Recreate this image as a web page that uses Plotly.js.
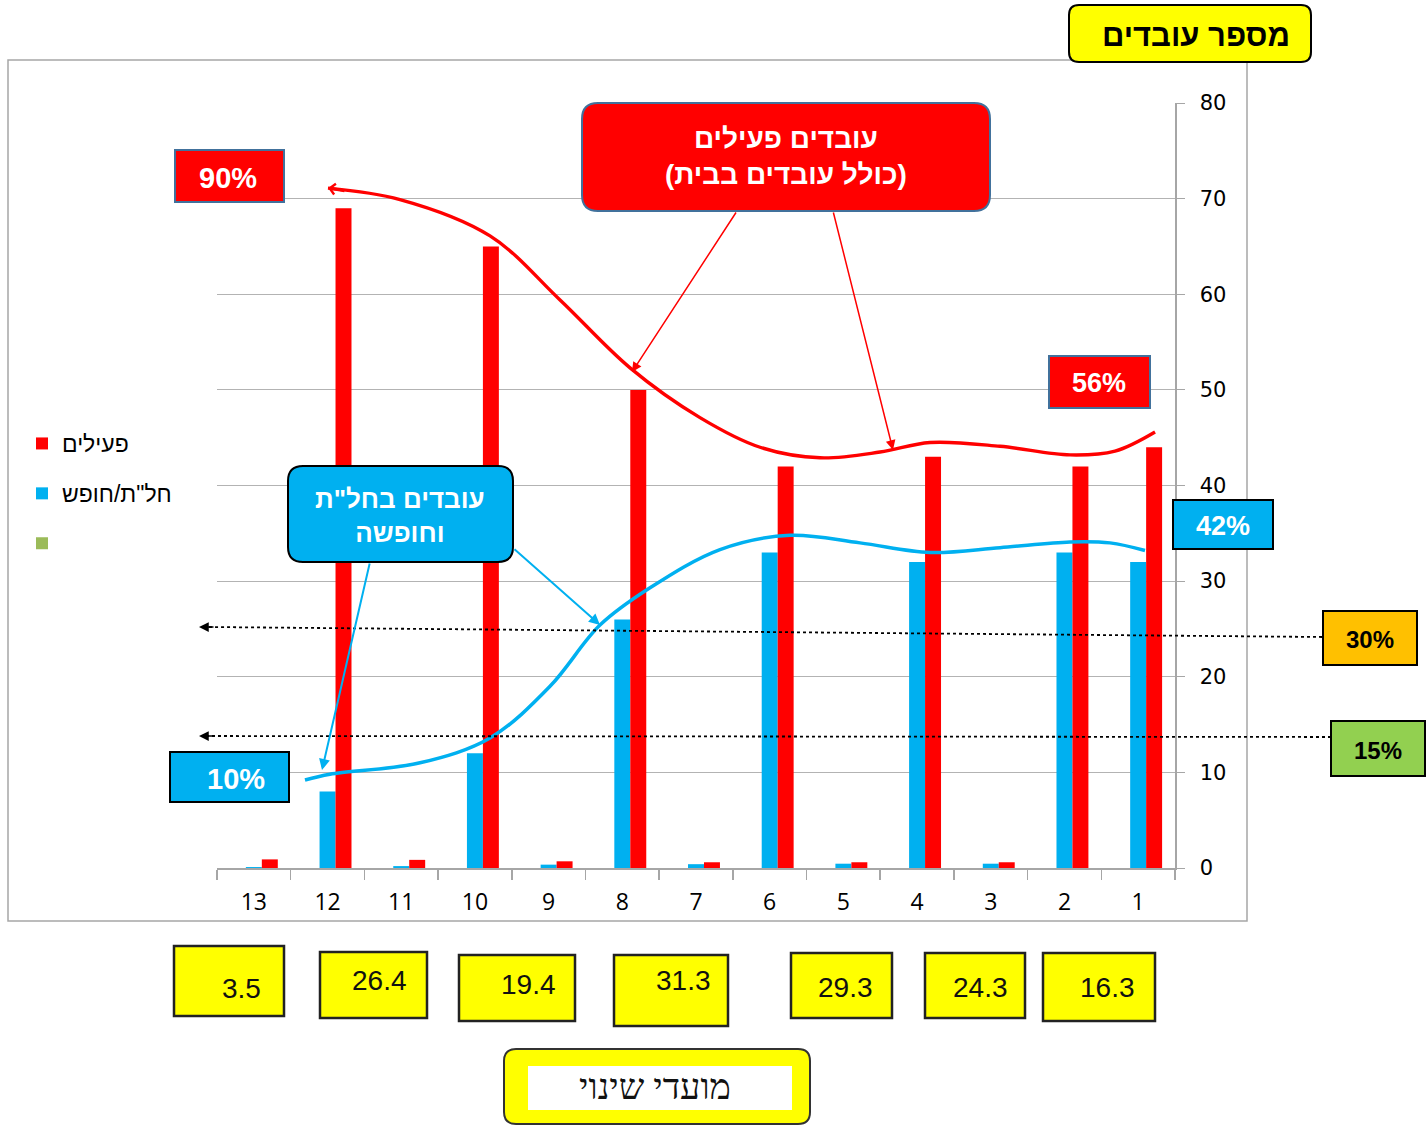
<!DOCTYPE html>
<html>
<head>
<meta charset="utf-8">
<script src="https://cdn.plot.ly/plotly-3.0.1.min.js"></script>
<style>html,body{margin:0;padding:0;background:#fff}#chart{width:1426px;height:1126px}</style>
</head>
<body>
<div id="chart"></div>
<script>
// ---------- DATA ----------
const categories = ['13','12','11','10','9','8','7','6','5','4','3','2','1'];
const activeVals = [0.9, 69, 0.85, 65, 0.7, 50, 0.6, 42, 0.6, 43, 0.6, 42, 44];   // פעילים
const leaveVals  = [0.1, 8, 0.2, 12, 0.35, 26, 0.4, 33, 0.45, 32, 0.45, 33, 32];  // חל"ת/חופש
const otherVals  = [0,0,0,0,0,0,0,0,0,0,0,0,0];                                   // empty series
const seriesNames = ['פעילים', 'חל"ת/חופש', ' '];
const yTicks = [0,10,20,30,40,50,60,70,80];
// hand-drawn trend curves (category index, value)
const redCurveX  = [1.006, 1.983, 3.205, 4.155, 5.105, 6.054, 6.869, 7.683, 8.497, 9.176, 10.126, 11.076, 11.686, 12.229];
const redCurveY  = [71.1, 69.9, 66.1, 59.4, 52.3, 47.1, 44.0, 42.9, 43.5, 44.5, 44.1, 43.2, 43.6, 45.6];
const blueCurveX = [0.694, 1.033, 2.255, 3.205, 4.019, 4.697, 5.376, 6.326, 7.276, 8.226, 9.176, 10.126, 11.076, 11.618, 12.093];
const blueCurveY = [9.2, 9.8, 11.0, 13.6, 19.0, 25.4, 29.3, 33.3, 34.8, 34.0, 33.0, 33.5, 34.1, 34.0, 33.2];
const pctLabels = ['90%', '56%', '10%', '42%', '30%', '15%'];
const boxLabels = ['3.5', '26.4', '19.4', '31.3', '29.3', '24.3', '16.3'];
const titleText = 'מספר עובדים';
const redCallout = 'עובדים פעילים<br>(כולל עובדים בבית)';
const blueCallout = 'עובדים בחל"ת<br>וחופשה';
const bottomText = 'מועדי שינוי';

// ---------- helpers (pixel -> paper) ----------
const L = 217, T = 103, W = 958, H = 765;
const X = px => (px - L) / W;
const Y = py => (T + H - py) / H;
function rrect(x0, y0, x1, y1, r) {
  const p = [
    `M${X(x0 + r)},${Y(y0)}`, `L${X(x1 - r)},${Y(y0)}`, `Q${X(x1)},${Y(y0)} ${X(x1)},${Y(y0 + r)}`,
    `L${X(x1)},${Y(y1 - r)}`, `Q${X(x1)},${Y(y1)} ${X(x1 - r)},${Y(y1)}`,
    `L${X(x0 + r)},${Y(y1)}`, `Q${X(x0)},${Y(y1)} ${X(x0)},${Y(y1 - r)}`,
    `L${X(x0)},${Y(y0 + r)}`, `Q${X(x0)},${Y(y0)} ${X(x0 + r)},${Y(y0)}`, 'Z'];
  return p.join(' ');
}
function rect(x0, y0, x1, y1, fill, line, lw, layer) {
  return {type:'rect', xref:'paper', yref:'paper', x0:X(x0), x1:X(x1), y0:Y(y1), y1:Y(y0),
          fillcolor:fill, line:{color:line, width:lw}, layer: layer || 'above'};
}
function txt(x, y, text, size, color, bold, family) {
  return {xref:'paper', yref:'paper', x:X(x), y:Y(y), xanchor:'center', yanchor:'middle',
          text: bold ? '<b>' + text + '</b>' : text, showarrow:false,
          font:{size:size, color:color, family: family || 'Liberation Sans, Arial, sans-serif'}};
}
function arrow(hx, hy, tx, ty, color, width, head, size) {
  return {xref:'paper', yref:'paper', x:X(hx), y:Y(hy), ax:tx - hx, ay:ty - hy, text:'',
          showarrow:true, arrowhead:head, arrowsize:size || 1, arrowwidth:width, arrowcolor:color};
}

// ---------- TRACES ----------
const traces = [
  {type:'bar', x:categories, y:otherVals, name:seriesNames[2], marker:{color:'#9BBB59'}, legendgroup:'g3', legendrank:3},
  {type:'bar', x:categories, y:leaveVals, name:seriesNames[1], marker:{color:'#00B0F0'}, legendgroup:'g2', legendrank:2},
  {type:'bar', x:categories, y:activeVals, name:seriesNames[0], marker:{color:'#FF0000'}, legendgroup:'g1', legendrank:1},
  {type:'scatter', mode:'lines', x:redCurveX, y:redCurveY, xaxis:'x2', yaxis:'y',
   line:{color:'#FF0000', width:3.4, shape:'spline', smoothing:1}, showlegend:false},
  {type:'scatter', mode:'lines', x:blueCurveX, y:blueCurveY, xaxis:'x2', yaxis:'y',
   line:{color:'#00B0F0', width:3.5, shape:'spline', smoothing:1}, showlegend:false}
];

// ---------- SHAPES ----------
const shapes = [
  rect(8, 60, 1247, 921, 'rgba(0,0,0,0)', '#A6A6A6', 1.5, 'below'),
  // dotted reference lines
  {type:'line', xref:'paper', yref:'paper', x0:X(1322), y0:Y(637), x1:X(208), y1:Y(627), line:{color:'#000', width:1.8, dash:'dot'}},
  {type:'line', xref:'paper', yref:'paper', x0:X(1331), y0:Y(737), x1:X(208), y1:Y(736), line:{color:'#000', width:1.8, dash:'dot'}},
  // title box
  {type:'path', xref:'paper', yref:'paper', path:rrect(1069, 5, 1311, 62, 10), fillcolor:'#FFFF00', line:{color:'#000', width:2}},
  // red callout
  {type:'path', xref:'paper', yref:'paper', path:rrect(582, 103, 990, 211, 16), fillcolor:'#FF0000', line:{color:'#41719C', width:2}},
  // blue callout
  {type:'path', xref:'paper', yref:'paper', path:rrect(288, 466, 513, 562, 15), fillcolor:'#00B0F0', line:{color:'#000', width:2}},
  // percentage boxes
  rect(175, 150, 284, 202, '#FF0000', '#41719C', 2),
  rect(1049, 356, 1150, 408, '#FF0000', '#41719C', 2),
  rect(170, 752, 289, 802, '#00B0F0', '#000', 2),
  rect(1173, 500, 1273, 549, '#00B0F0', '#000', 2),
  rect(1323, 611, 1417, 665, '#FFC000', '#000', 2),
  rect(1331, 721, 1425, 776, '#92D050', '#000', 2),
  // yellow number boxes
  rect(174, 946, 284, 1016, '#FFFF00', '#222', 2.5),
  rect(320, 952, 427, 1018, '#FFFF00', '#222', 2.5),
  rect(459, 955, 575, 1021, '#FFFF00', '#222', 2.5),
  rect(614, 955, 728, 1026, '#FFFF00', '#222', 2.5),
  rect(791, 953, 892, 1018, '#FFFF00', '#222', 2.5),
  rect(925, 953, 1025, 1018, '#FFFF00', '#222', 2.5),
  rect(1043, 953, 1155, 1021, '#FFFF00', '#222', 2.5),
  // bottom label box
  {type:'path', xref:'paper', yref:'paper', path:rrect(504, 1049, 810, 1124, 12), fillcolor:'#FFFF00', line:{color:'#333', width:2}},
  rect(528, 1066, 792, 1110, '#FFFFFF', 'rgba(0,0,0,0)', 0)
];

// ---------- ANNOTATIONS ----------
const numFont = 'Liberation Sans Narrow, Arial Narrow, Liberation Sans, sans-serif';
const annotations = [
  txt(1196, 35, titleText, 31, '#000', true),
  txt(786, 157, redCallout, 28, '#FFFFFF', true),
  txt(400, 516, blueCallout, 26, '#FFFFFF', true),
  txt(228, 178, pctLabels[0], 29, '#FFFFFF', true),
  txt(1099, 383, pctLabels[1], 27, '#FFFFFF', true),
  txt(236, 779, pctLabels[2], 29, '#FFFFFF', true),
  txt(1223, 526, pctLabels[3], 27, '#FFFFFF', true),
  txt(1370, 639, pctLabels[4], 24, '#000', true),
  txt(1378, 750, pctLabels[5], 24, '#000', true),
  txt(241, 989, boxLabels[0], 28, '#111', false, numFont),
  txt(379, 981, boxLabels[1], 28, '#111', false, numFont),
  txt(528, 985, boxLabels[2], 28, '#111', false, numFont),
  txt(683, 981, boxLabels[3], 28, '#111', false, numFont),
  txt(845, 988, boxLabels[4], 28, '#111', false, numFont),
  txt(980, 988, boxLabels[5], 28, '#111', false, numFont),
  txt(1107, 988, boxLabels[6], 28, '#111', false, numFont),
  txt(655, 1087, bottomText, 36, '#111', false, 'Liberation Serif, DejaVu Serif, serif'),
  // callout arrows
  arrow(632, 372, 737, 211, '#FF0000', 1.5, 2, 1.3),
  arrow(893, 450, 833, 211, '#FF0000', 1.5, 2, 1.3),
  arrow(322, 770, 370, 562, '#00B0F0', 2, 2, 1.1),
  arrow(600, 625, 513, 548, '#00B0F0', 2, 2, 1.1),
  // dotted-line arrowheads
  arrow(199, 627, 215, 627, '#000', 1.5, 2, 1.3),
  arrow(199, 736, 215, 736, '#000', 1.5, 2, 1.3),
  // start of red curve
  arrow(328, 188, 346, 191, '#FF0000', 3, 4, 0.7)
];

const layout = {
  width:1426, height:1126,
  margin:{l:L, r:1426 - L - W, t:T, b:1126 - T - H, pad:0},
  paper_bgcolor:'#FFFFFF', plot_bgcolor:'#FFFFFF',
  barmode:'group', bargap:0.35, bargroupgap:0,
  showlegend:true,
  legend:{x:X(22), y:Y(422), xanchor:'left', yanchor:'top', traceorder:'grouped', tracegroupgap:17,
          font:{size:23, color:'#000', family:'Liberation Sans, Arial, sans-serif'}, bgcolor:'rgba(0,0,0,0)'},
  xaxis:{type:'category', categoryorder:'array', categoryarray:categories, showline:true, linecolor:'#A6A6A6', linewidth:1.5,
         ticks:'outside', tickson:'boundaries', ticklen:10, tickcolor:'#A6A6A6', tickwidth:1.5, showgrid:false,
         tickfont:{size:23, color:'#000', family:'Open Sans, sans-serif'}, ticklabelstandoff:13, fixedrange:true},
  xaxis2:{overlaying:'x', range:[-0.5, 12.5], visible:false, anchor:'y'},
  yaxis:{side:'right', range:[0, 80], tickvals:yTicks, showline:true, linecolor:'#A6A6A6', linewidth:1.5,
         ticks:'outside', ticklen:8, tickcolor:'#A6A6A6', gridcolor:'#B3B3B3', gridwidth:1, zeroline:false,
         tickfont:{size:21, color:'#000', family:'DejaVu Sans, Verdana, sans-serif'}, ticklabelstandoff:11, fixedrange:true},
  shapes:shapes, annotations:annotations, hovermode:false
};

Plotly.newPlot('chart', traces, layout, {displayModeBar:false, staticPlot:true});
</script>
</body>
</html>
